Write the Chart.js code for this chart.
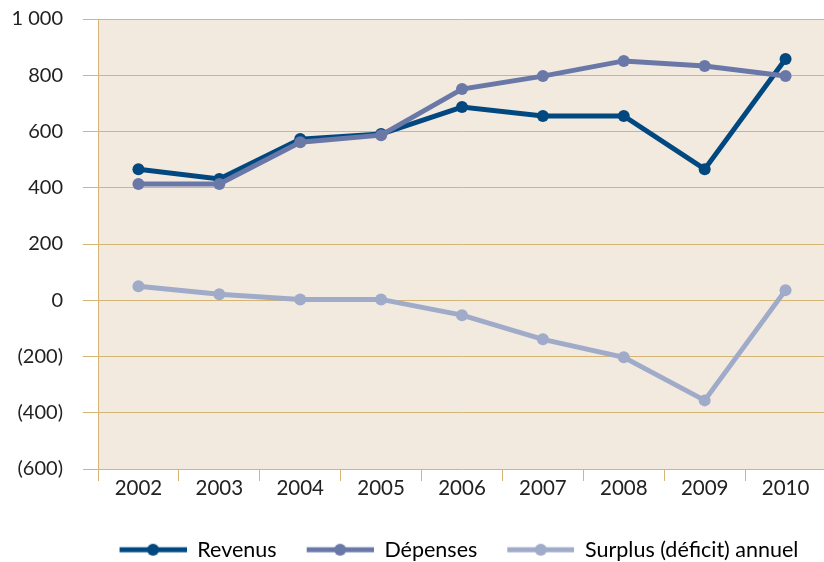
<!DOCTYPE html>
<html>
<head>
<meta charset="utf-8">
<script src="https://cdn.jsdelivr.net/npm/chart.js@4/dist/chart.umd.min.js"></script>
<style>
html,body{margin:0;padding:0;background:#fff;overflow:hidden;width:824px;height:562px;}
#wrap{width:832px;height:562px;position:relative;}
canvas{display:block;}
</style>
</head>
<body>
<div id="wrap"><canvas id="c" width="832" height="562" style="width:832px;height:562px"></canvas></div>
<script>
const years = ['2002','2003','2004','2005','2006','2007','2008','2009','2010'];
const revenus = [466, 431, 573, 591, 687, 655, 655, 466, 858];
const depenses = [413, 413, 562, 587, 751, 797, 851, 833, 797];
const surplus = [50, 21, 3, 3, -53, -139, -203, -356, 36];
const yTicks = [-600, -400, -200, 0, 200, 400, 600, 800, 1000];
const yTickLabels = ['(600)', '(400)', '(200)', '0', '200', '400', '600', '800', '1 000'];
const seriesNames = ['Revenus', 'Dépenses', 'Surplus (déficit) annuel'];
const colors = ['#00487f', '#6a78a8', '#a0aac9'];

const GOLD = '#d6b474';
const FONT = 'Lato, "Open Sans", sans-serif';

function legendSymbol(color) {
  const c = document.createElement('canvas');
  c.width = 77; c.height = 14;
  const x = c.getContext('2d');
  x.strokeStyle = color; x.lineWidth = 5;
  x.beginPath(); x.moveTo(10, 7); x.lineTo(77, 7); x.stroke();
  x.fillStyle = color;
  x.beginPath(); x.arc(43.5, 7, 6, 0, Math.PI * 2); x.fill();
  return c;
}
const symbols = colors.map(legendSymbol);

const bgPlugin = {
  id: 'bg',
  beforeDraw(chart) {
    const a = chart.chartArea, ctx = chart.ctx;
    ctx.save();
    ctx.fillStyle = '#f2eadf';
    ctx.fillRect(a.left, a.top, a.right - a.left, a.bottom - a.top);
    ctx.restore();
    if (chart.legend) { chart.legend.left = 76; }
  }
};

const dsBase = (label, data, color) => ({
  label, data,
  borderColor: color, backgroundColor: color,
  pointBackgroundColor: color, pointBorderColor: color,
  borderWidth: 5, pointRadius: 6, pointHoverRadius: 6, pointBorderWidth: 0,
  tension: 0
});

new Chart(document.getElementById('c'), {
  type: 'line',
  data: {
    labels: years,
    datasets: [
      dsBase(seriesNames[2], surplus, colors[2]),
      dsBase(seriesNames[1], depenses, colors[1]),
      dsBase(seriesNames[0], revenus, colors[0])
    ]
  },
  plugins: [bgPlugin],
  options: {
    responsive: false,
    animation: false,
    layout: { padding: { top: 19, left: 0, right: 0, bottom: -8.5 } },
    plugins: {
      tooltip: { enabled: false },
      legend: {
        position: 'bottom',
        labels: {
          usePointStyle: true,
          pointStyleWidth: 77,
          padding: 20,
          color: '#222',
          font: { family: FONT, size: 21.5 },
          generateLabels(chart) {
            return [0, 1, 2].map(i => ({
              text: seriesNames[i],
              pointStyle: symbols[i],
              fillStyle: colors[i],
              strokeStyle: colors[i],
              lineWidth: 0,
              hidden: false,
              datasetIndex: 2 - i
            }));
          }
        }
      }
    },
    scales: {
      x: {
        offset: true,
        grid: {
          offset: true, drawOnChartArea: false, drawTicks: true,
          tickLength: 12, color: GOLD, lineWidth: 1
        },
        border: { display: false },
        ticks: { color: '#222', font: { family: FONT, size: 20.5 }, padding: -5, maxRotation: 0 },
        afterFit(s) { s.height = 50; }
      },
      y: {
        min: -600, max: 1000,
        afterBuildTicks(s) { s.ticks = yTicks.map(v => ({ value: v })); },
        grid: { color: GOLD, lineWidth: 1, drawTicks: true, tickLength: 15 },
        border: { display: true, color: GOLD, width: 1 },
        ticks: {
          color: '#222', font: { family: FONT, size: 20 }, padding: 20,
          callback(v) { const i = yTicks.indexOf(v); return i >= 0 ? yTickLabels[i] : ''; }
        },
        afterFit(s) { s.width = 98; s.paddingTop = 0; s.paddingBottom = 0; }
      }
    }
  }
});
</script>
</body>
</html>
